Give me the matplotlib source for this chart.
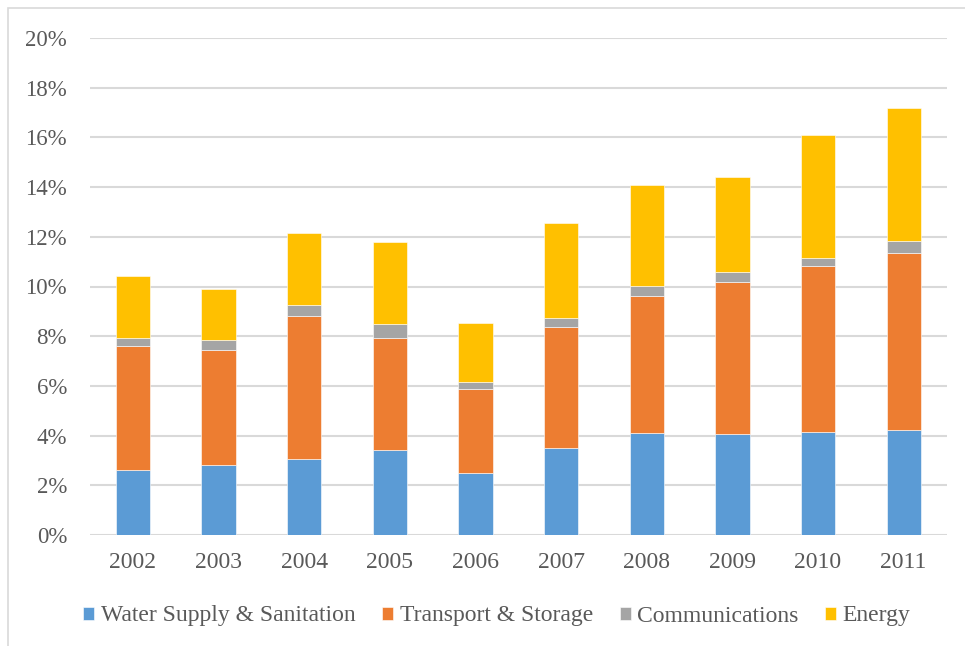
import matplotlib.pyplot as plt
import numpy as np
from matplotlib.patches import Rectangle

plt.rcParams['font.family'] = ['Liberation Serif', 'DejaVu Serif']

# 数据（百分比）
years = ['2002', '2003', '2004', '2005', '2006', '2007', '2008', '2009', '2010', '2011']
water = [2.60, 2.81, 3.05, 3.44, 2.49, 3.51, 4.12, 4.08, 4.16, 4.24]
transport = [5.00, 4.65, 5.76, 4.50, 3.40, 4.86, 5.49, 6.09, 6.66, 7.11]
comms = [0.34, 0.38, 0.45, 0.56, 0.28, 0.36, 0.40, 0.40, 0.34, 0.47]
energy = [2.50, 2.04, 2.91, 3.31, 2.38, 3.84, 4.09, 3.85, 4.94, 5.36]
series_names = ['Water Supply & Sanitation', 'Transport & Storage', 'Communications', 'Energy']
colors = ['#5B9BD5', '#ED7D31', '#A5A5A5', '#FFC000']

W, H = 965, 646
fig = plt.figure(figsize=(W / 100, H / 100), dpi=100)
ax = fig.add_axes([90 / W, (H - 535) / H, (946.5 - 90) / W, (535 - 38) / H])

# 外框
fig.patches.append(Rectangle((8 / W, -0.01), 1.0, (H - 8) / H + 0.01, transform=fig.transFigure,
                             fill=False, edgecolor='#D9D9D9', linewidth=1.2))

index = np.arange(len(years))
bottom = np.zeros(len(years))
for vals, name, c in zip([water, transport, comms, energy], series_names, colors):
    v = np.array(vals) / 100
    ax.bar(index, v, 0.4, bottom=bottom, color=c, label=name, edgecolor='white', linewidth=0.4, zorder=3)
    bottom += v

ax.set_xlim(-0.5, len(years) - 0.5)
ax.set_ylim(0, 0.20)
ax.set_yticks(np.arange(0, 0.201, 0.02))
ax.set_yticklabels([f'{int(round(t * 100))}%' for t in np.arange(0, 0.201, 0.02)])
ax.set_xticks(index)
ax.set_xticklabels(years)
ax.grid(axis='y', color='#D9D9D9', linewidth=1.5, zorder=0)
ax.set_axisbelow(True)
for s in ax.spines.values():
    s.set_visible(False)
ax.tick_params(axis='both', length=0, labelsize=17, colors='#595959')
ax.tick_params(axis='y', labelsize=16.5, pad=16.5)
ax.tick_params(axis='x', pad=12)

ax.legend(loc='center', bbox_to_anchor=((497 - 90) / 856.5, (616 - 535) / -(535 - 38)), ncol=4,
          frameon=False, fontsize=17, labelcolor='#595959', handlelength=0.47, handleheight=0.47,
          handletextpad=0.28, columnspacing=1.12)

fig.savefig('out.png', dpi=100)
